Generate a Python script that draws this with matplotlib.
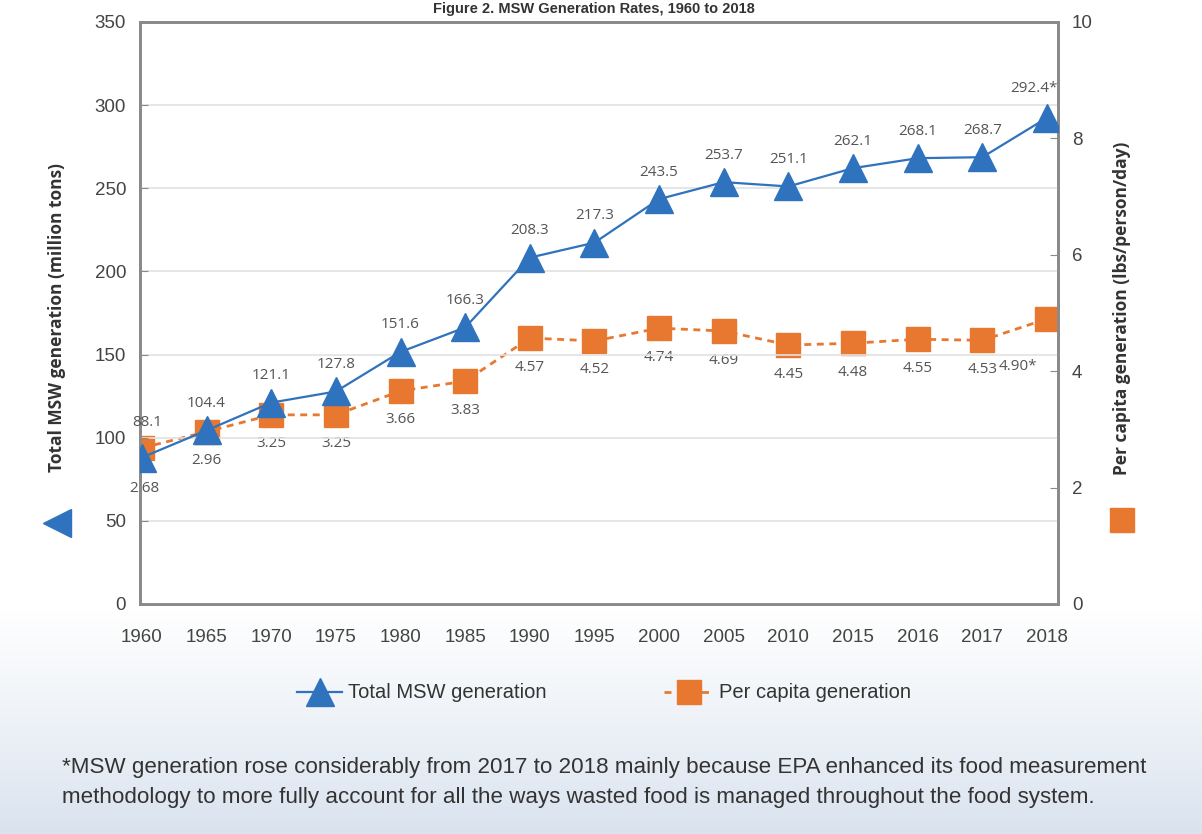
import matplotlib
matplotlib.use("Agg")
import matplotlib.pyplot as plt
import numpy as np
from matplotlib.colors import LinearSegmentedColormap
from matplotlib.lines import Line2D

years = ["1960", "1965", "1970", "1975", "1980", "1985", "1990", "1995",
         "2000", "2005", "2010", "2015", "2016", "2017", "2018"]
msw_total = [88.1, 104.4, 121.1, 127.8, 151.6, 166.3, 208.3, 217.3,
             243.5, 253.7, 251.1, 262.1, 268.1, 268.7, 292.4]
msw_labels = ["88.1", "104.4", "121.1", "127.8", "151.6", "166.3", "208.3", "217.3",
              "243.5", "253.7", "251.1", "262.1", "268.1", "268.7", "292.4*"]
per_capita = [2.68, 2.96, 3.25, 3.25, 3.66, 3.83, 4.57, 4.52,
              4.74, 4.69, 4.45, 4.48, 4.55, 4.53, 4.90]
pc_labels = ["2.68", "2.96", "3.25", "3.25", "3.66", "3.83", "4.57", "4.52",
             "4.74", "4.69", "4.45", "4.48", "4.55", "4.53", "4.90*"]

BLUE = "#2f72bd"
ORANGE = "#e8782f"
GRAY = "#555555"
TICKFONT = ["Liberation Sans", "DejaVu Sans"]
LABFONT = ["Open Sans", "DejaVu Sans"]

W, H = 1202, 834
fig = plt.figure(figsize=(W / 100, H / 100), dpi=100)

# background gradient
bg = fig.add_axes([0, 0, 1, 1], zorder=-10)
ys = np.arange(H)
start = 610
t = np.clip((ys - start) / (H - start), 0, 1)
cmap = LinearSegmentedColormap.from_list("bgc", ["#ffffff", "#eef2f7", "#d9e3ef"])
bg.imshow(t[:, None], aspect="auto", cmap=cmap, extent=[0, 1, 0, 1], vmin=0, vmax=1)
bg.axis("off")

def px_ax(l, t_, r, b):
    return [l / W, 1 - b / H, (r - l) / W, (b - t_) / H]

ax = fig.add_axes(px_ax(140, 22, 1058, 604))
ax2 = ax.twinx()
x = np.arange(len(years))

ax.set_zorder(ax2.get_zorder() + 1)
ax.patch.set_visible(False)
ax2.patch.set_visible(True)
ax2.patch.set_facecolor("white")

ax.set_ylim(0, 350)
ax2.set_ylim(0, 10)
ax.set_xlim(-0.03, 14.17)

ax.set_yticks(range(0, 351, 50))
ax2.set_yticks(range(0, 11, 2))
ax.set_xticks(x)
ax.set_xticklabels(years)

for a in (ax, ax2):
    for s in a.spines.values():
        s.set_color("#8a8a8a")
        s.set_linewidth(2)
ax.tick_params(axis="y", direction="in", length=6, color="#8a8a8a",
               labelcolor="#444444", pad=10)
ax2.tick_params(axis="y", direction="in", length=6, color="#8a8a8a",
                labelcolor="#444444", pad=10)
ax.tick_params(axis="x", length=0, labelcolor="#444444", pad=18)
for lab in ax.get_xticklabels() + ax.get_yticklabels() + ax2.get_yticklabels():
    lab.set_fontfamily(TICKFONT)
    lab.set_fontsize(13.5)

ax.yaxis.grid(True, color="#e2e2e2", linewidth=1.2)
ax.set_axisbelow(True)

# series
ax2.plot(x, per_capita, color=ORANGE, linestyle=(0, (2.5, 2)), linewidth=2,
         marker="s", markersize=17.5, markerfacecolor=ORANGE, markeredgecolor=ORANGE,
         zorder=3)
ax.plot(x, msw_total, color=BLUE, linewidth=1.6, marker="^", markersize=20,
        markerfacecolor=BLUE, markeredgecolor=BLUE, zorder=5)

# data labels
for i, (v, s) in enumerate(zip(msw_total, msw_labels)):
    dx, dy = 0, 27
    if i == 0:
        dx, dy = 5, 35
    if i == 14:
        dx, dy = -13, 29
    ax.annotate(s, (i, v), xytext=(dx, dy), textcoords="offset pixels",
                ha="center", va="center", fontsize=11, color=GRAY,
                fontfamily=LABFONT, zorder=6)
for i, (v, s) in enumerate(zip(per_capita, pc_labels)):
    dx, dy = 0, -29
    if i == 0:
        dx, dy = 2, -40
    if i == 14:
        dx, dy = -29, -48
    ax2.annotate(s, (i, v), xytext=(dx, dy), textcoords="offset pixels",
                 ha="center", va="center", fontsize=11, color=GRAY,
                 fontfamily=LABFONT, zorder=6)

# axis titles with markers
fig.text(57 / W, 1 - 317 / H, "Total MSW generation (million tons)", rotation=90,
         ha="center", va="center", fontsize=12.5, fontweight="bold",
         color="#333333", fontfamily=LABFONT)
fig.add_artist(Line2D([57 / W], [1 - 523 / H], marker="<", markersize=20,
                      color=BLUE, linestyle="none"))
fig.text(1122 / W, 1 - 308 / H, "Per capita generation (lbs/person/day)", rotation=90,
         ha="center", va="center", fontsize=12.5, fontweight="bold",
         color="#333333", fontfamily=LABFONT)
fig.add_artist(Line2D([1122 / W], [1 - 520 / H], marker="s", markersize=17.5,
                      color=ORANGE, linestyle="none"))

# legend
ly = 1 - 692 / H
fig.add_artist(Line2D([297 / W, 342 / W], [ly, ly], color=BLUE, linewidth=1.6))
fig.add_artist(Line2D([320 / W], [ly], marker="^", markersize=20, color=BLUE,
                      linestyle="none"))
fig.text(348 / W, ly, "Total MSW generation", ha="left", va="center", fontsize=14.5,
         color="#333333", fontfamily=TICKFONT)
fig.add_artist(Line2D([664 / W, 714 / W], [ly, ly], color=ORANGE, linewidth=2,
                      linestyle=(0, (2.5, 2))))
fig.add_artist(Line2D([689 / W], [ly], marker="s", markersize=17.5, color=ORANGE,
                      linestyle="none"))
fig.text(719 / W, ly, "Per capita generation", ha="left", va="center", fontsize=14.5,
         color="#333333", fontfamily=TICKFONT)

# footnote
fig.text(62 / W, 1 - 768 / H,
         "*MSW generation rose considerably from 2017 to 2018 mainly because EPA enhanced its food measurement",
         ha="left", va="center", fontsize=16.1, color="#333333", fontfamily=TICKFONT)
fig.text(62 / W, 1 - 797 / H,
         "methodology to more fully account for all the ways wasted food is managed throughout the food system.",
         ha="left", va="center", fontsize=16.1, color="#333333", fontfamily=TICKFONT)

# title (cut off at the top in the reference; kept small and visible here)
fig.text(594 / W, 1 - 9 / H, "Figure 2. MSW Generation Rates, 1960 to 2018",
         ha="center", va="center", fontsize=10.5, fontweight="bold", color="#333333",
         fontfamily=TICKFONT)

fig.savefig("out.png", dpi=100)
